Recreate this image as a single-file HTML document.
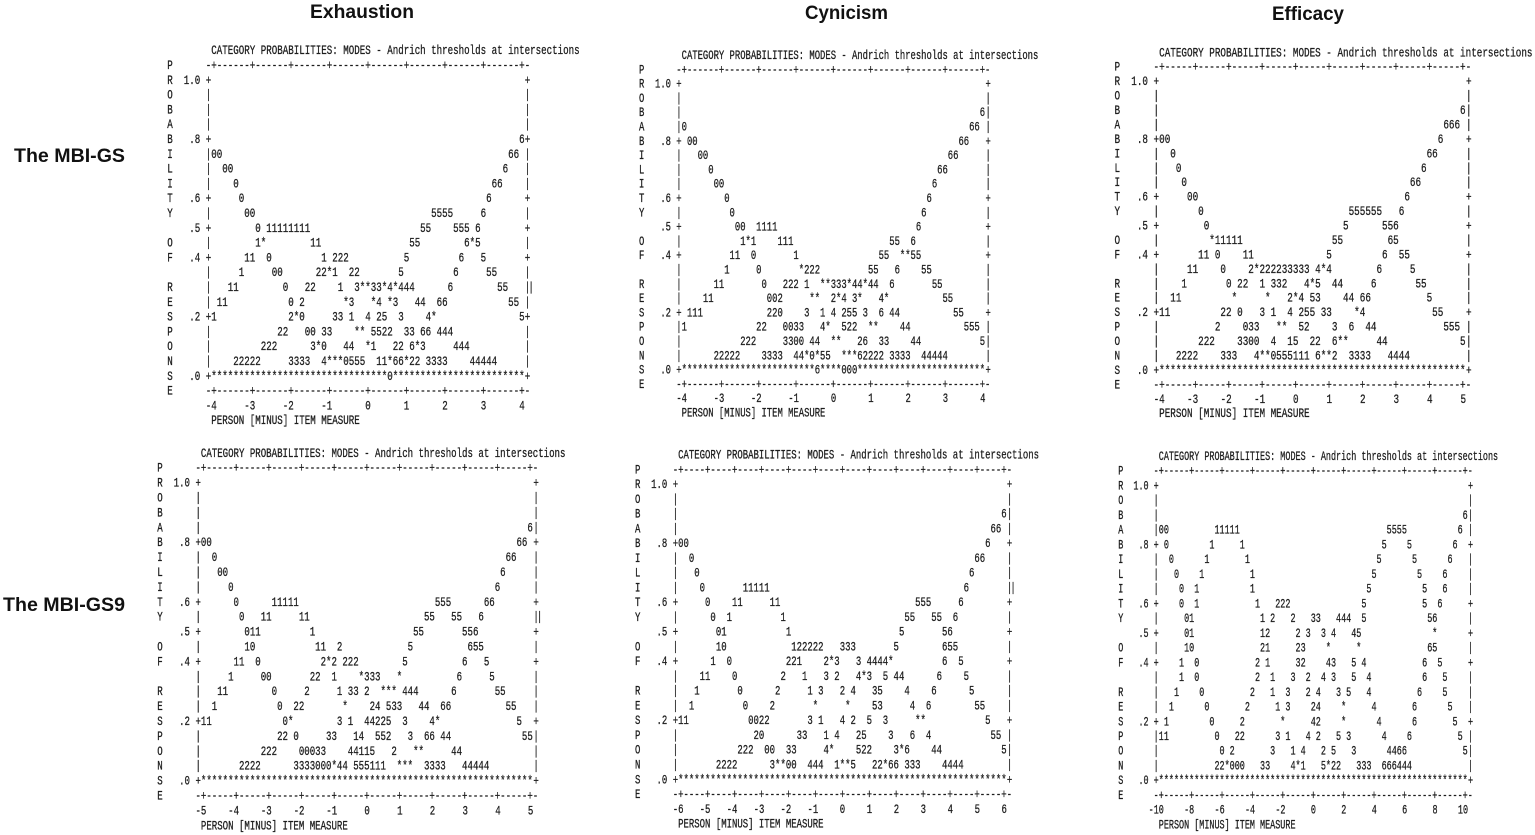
<!DOCTYPE html>
<html lang="en">
<head>
<meta charset="utf-8">
<title>Category probability curves: MBI-GS and MBI-GS9</title>
<style>
html,body{margin:0;padding:0;background:#fff;}
body{width:1535px;height:835px;overflow:hidden;}
svg{display:block;}
.head{font-family:"Liberation Sans",sans-serif;font-weight:bold;font-size:19.5px;fill:#111;}
.mono{font-family:"Liberation Mono",monospace;font-size:12.5px;fill:#1c1c1c;stroke:#1c1c1c;stroke-width:0.28px;white-space:pre;}
</style>
</head>
<body>
<svg id="figure" width="1535" height="835" viewBox="0 0 1535 835" xmlns="http://www.w3.org/2000/svg">
  <text class="head" x="310" y="18" textLength="104" lengthAdjust="spacingAndGlyphs">Exhaustion</text>
  <text class="head" x="805" y="19" textLength="83" lengthAdjust="spacingAndGlyphs">Cynicism</text>
  <text class="head" x="1272" y="20" textLength="72" lengthAdjust="spacingAndGlyphs">Efficacy</text>
  <text class="head" x="14" y="162" textLength="111" lengthAdjust="spacingAndGlyphs">The MBI-GS</text>
  <text class="head" x="3" y="611" textLength="122" lengthAdjust="spacingAndGlyphs">The MBI-GS9</text>
</svg>
<script>
// Shared axis values
const probabilityLabels = ["1.0", ".8", ".6", ".5", ".4", ".2", ".0"];
const probabilityTicks = [1.0, 0.8, 0.6, 0.5, 0.4, 0.2, 0.0];
const yTitleLetters = ["P","R","O","B","A","B","I","L","I","T","Y","","O","F","","R","E","S","P","O","N","S","E"];

// Measure ticks per panel
const exhaustionGsTicks = [-4,-3,-2,-1,0,1,2,3,4];
const cynicismGsTicks = [-4,-3,-2,-1,0,1,2,3,4];
const efficacyGsTicks = [-4,-3,-2,-1,0,1,2,3,4,5];
const exhaustionGs9Ticks = [-5,-4,-3,-2,-1,0,1,2,3,4,5];
const cynicismGs9Ticks = [-6,-5,-4,-3,-2,-1,0,1,2,3,4,5,6];
const efficacyGs9Ticks = [-10,-8,-6,-4,-2,0,2,4,6,8,10];

// Printed plot rows, top (p=1.0) to bottom (p=0.0), as [blank-count, symbols, ...]
const exhaustionGsRows = [
[],[],[],[],
[56,"6"],
[0,"00",52,"66"],
[2,"00",49,"6"],
[4,"0",46,"66"],
[5,"0",44,"6"],
[6,"00",32,"5555",5,"6"],
[8,"0",1,"11111111",20,"55",4,"555",1,"6"],
[8,"1*",8,"11",16,"55",8,"6*5"],
[6,"11",2,"0",9,"1",1,"222",10,"5",9,"6",3,"5"],
[5,"1",5,"00",6,"22*1",2,"22",7,"5",9,"6",5,"55"],
[3,"11",8,"0",3,"22",4,"1",2,"3**33*4*444",6,"6",8,"55"],
[1,"11",11,"0",1,"2",7,"*3",3,"*4",1,"*3",3,"44",2,"66",11,"55"],
[0,"1",13,"2*0",5,"33",1,"1",2,"4",1,"25",2,"3",4,"4*",15,"5"],
[12,"22",3,"00",1,"33",4,"**",1,"5522",2,"33",1,"66",1,"444"],
[9,"222",6,"3*0",3,"44",2,"*1",3,"22",1,"6*3",5,"444"],
[4,"22222",5,"3333",2,"4***0555",2,"11*66*22",1,"3333",4,"44444"],
[0,"*".repeat(32)+"0"+"*".repeat(24)]
];
const cynicismGsRows = [
[],[],
[56,"6"],
[0,"0",53,"66"],
[1,"00",49,"66"],
[3,"00",45,"66"],
[5,"0",42,"66"],
[6,"00",39,"6"],
[8,"0",37,"6"],
[9,"0",35,"6"],
[10,"00",2,"1111",26,"6"],
[11,"1*1",4,"111",18,"55",2,"6"],
[9,"11",2,"0",7,"1",15,"55",2,"**55"],
[8,"1",5,"0",7,"*222",9,"55",3,"6",4,"55"],
[6,"11",7,"0",3,"222",1,"1",2,"**333*44*44",2,"6",7,"55"],
[4,"11",10,"002",5,"**",2,"2*4",1,"3*",3,"4*",10,"55"],
[1,"111",12,"220",4,"3",2,"1",1,"4",1,"255",1,"3",2,"6",1,"44",10,"55"],
[0,"1",13,"22",3,"0033",3,"4*",2,"522",2,"**",4,"44",10,"555"],
[11,"222",5,"3300",1,"44",2,"**",3,"26",2,"33",4,"44",11,"5"],
[6,"22222",4,"3333",2,"44*0*55",2,"***62222",1,"3333",2,"44444"],
[0,"*".repeat(25)+"6"+"*".repeat(4)+"000"+"*".repeat(24)]
];
const efficacyGsRows = [
[],[],
[54,"6"],
[51,"666"],
[0,"00",48,"6"],
[2,"0",45,"66"],
[3,"0",43,"6"],
[4,"0",40,"66"],
[5,"00",37,"6"],
[7,"0",26,"555555",3,"6"],
[8,"0",24,"5",6,"556"],
[9,"*11111",16,"55",8,"65"],
[7,"11",1,"0",4,"11",13,"5",9,"6",2,"55"],
[5,"11",4,"0",4,"2*222233333",1,"4*4",8,"6",5,"5"],
[4,"1",7,"0",1,"22",2,"1",1,"332",3,"4*5",2,"44",5,"6",7,"55"],
[2,"11",9,"*",5,"*",3,"2*4",1,"53",4,"44",1,"66",10,"5"],
[0,"11",9,"22",1,"0",3,"3",1,"1",2,"4",1,"255",1,"33",4,"*4",12,"55"],
[10,"2",4,"033",3,"**",2,"52",4,"3",2,"6",2,"44",12,"555"],
[7,"222",4,"3300",2,"4",2,"15",2,"22",2,"6**",5,"44",13,"5"],
[3,"2222",4,"333",3,"4**0555111",1,"6**2",2,"3333",3,"4444"],
[0,"*".repeat(55)]
];
const exhaustionGs9Rows = [
[],[],[],
[60,"6"],
[0,"00",56,"66"],
[2,"0",53,"66"],
[3,"00",50,"6"],
[5,"0",48,"6"],
[6,"0",6,"11111",25,"555",6,"66"],
[7,"0",3,"11",5,"11",21,"55",3,"55",3,"6"],
[8,"011",9,"1",18,"55",7,"556"],
[8,"10",11,"11",2,"2",12,"5",10,"655"],
[6,"11",2,"0",11,"2*2",1,"222",8,"5",10,"6",3,"5"],
[5,"1",5,"00",7,"22",2,"1",4,"*333",3,"*",10,"6",5,"5"],
[3,"11",8,"0",5,"2",5,"1",1,"33",1,"2",2,"***",1,"444",6,"6",7,"55"],
[2,"1",11,"0",2,"22",7,"*",4,"24",1,"533",3,"44",2,"66",10,"55"],
[0,"11",13,"0*",8,"3",1,"1",2,"44225",2,"3",4,"4*",14,"5"],
[14,"22",1,"0",5,"33",3,"14",2,"552",3,"3",2,"66",1,"44",13,"55"],
[11,"222",4,"00033",4,"44115",3,"2",3,"**",5,"44"],
[7,"2222",6,"3333000*44",1,"555111",2,"***",2,"3333",3,"44444"],
[0,"*".repeat(61)]
];
const cynicismGs9Rows = [
[],[],
[60,"6"],
[58,"66"],
[0,"00",55,"6"],
[2,"0",52,"66"],
[3,"0",50,"6"],
[4,"0",7,"11111",36,"6"],
[5,"0",4,"11",5,"11",25,"555",5,"6"],
[6,"0",2,"1",9,"1",22,"55",3,"55",2,"6"],
[7,"01",11,"1",20,"5",7,"56"],
[7,"10",12,"122222",3,"333",7,"5",8,"655"],
[6,"1",2,"0",10,"221",4,"2*3",3,"3",1,"4444*",9,"6",2,"5"],
[4,"11",4,"0",8,"2",3,"1",3,"3",1,"2",3,"4*3",2,"5",1,"44",6,"6",4,"5"],
[3,"1",7,"0",6,"2",5,"1",1,"3",3,"2",1,"4",3,"35",4,"4",4,"6",6,"5"],
[2,"1",9,"0",4,"2",7,"*",5,"*",4,"53",5,"4",2,"6",8,"55"],
[0,"11",11,"0022",7,"3",1,"1",3,"4",1,"2",2,"5",2,"3",5,"**",11,"5"],
[14,"20",6,"33",3,"1",1,"4",3,"25",4,"3",3,"6",2,"4",11,"55"],
[11,"222",2,"00",2,"33",5,"4*",4,"522",4,"3*6",4,"44",11,"5"],
[7,"2222",6,"3**00",2,"444",2,"1**5",3,"22*66",1,"333",4,"4444"],
[0,"*".repeat(61)]
];
const efficacyGs9Rows = [
[],[],
[60,"6"],
[0,"00",9,"11111",29,"5555",10,"6"],
[1,"0",8,"1",5,"1",27,"5",4,"5",8,"6"],
[2,"0",6,"1",7,"1",25,"5",6,"5",6,"6"],
[3,"0",4,"1",9,"1",23,"5",8,"5",4,"6"],
[4,"0",2,"1",10,"1",22,"5",10,"5",3,"6"],
[4,"0",2,"1",11,"1",3,"222",14,"5",11,"5",2,"6"],
[5,"01",13,"1",1,"2",3,"2",3,"33",3,"444",2,"5",12,"56"],
[5,"01",13,"12",5,"2",1,"3",2,"3",1,"4",3,"45",14,"*"],
[5,"10",13,"21",5,"23",4,"*",5,"*",13,"65"],
[4,"1",2,"0",11,"2",1,"1",5,"32",4,"43",3,"5",1,"4",11,"6",2,"5"],
[4,"1",2,"0",11,"2",2,"1",3,"3",2,"2",2,"4",1,"3",3,"5",2,"4",10,"6",3,"5"],
[3,"1",4,"0",9,"2",3,"1",2,"3",3,"2",1,"4",3,"3",1,"5",3,"4",9,"6",4,"5"],
[2,"1",6,"0",7,"2",5,"1",1,"3",4,"24",4,"*",5,"4",7,"6",6,"5"],
[1,"1",8,"0",5,"2",7,"*",5,"42",4,"*",6,"4",6,"6",7,"5"],
[0,"11",9,"0",3,"22",6,"3",1,"1",3,"4",1,"2",3,"5",1,"3",6,"4",4,"6",9,"5"],
[12,"0",1,"2",7,"3",3,"1",1,"4",3,"2",1,"5",3,"3",6,"4466",11,"5"],
[11,"22*000",3,"33",4,"4*1",3,"5*22",3,"333",2,"666444"],
[0,"*".repeat(61)]
];

const TITLE_TEXT = "CATEGORY PROBABILITIES: MODES - Andrich thresholds at intersections";
const X_TITLE_TEXT = "PERSON [MINUS] ITEM MEASURE";
const CHAR_W = 7.5;
const FIRST_TICK_COL = 8;
const SVG_NS = "http://www.w3.org/2000/svg";

const panels = [
  {name:"exhaustion-mbi-gs", ticks:exhaustionGsTicks, rows:exhaustionGsRows, left:167.3, top:65, pitch:14.8, cw:5.5, tickGap:7, doubleBarRow:14},
  {name:"cynicism-mbi-gs", ticks:cynicismGsTicks, rows:cynicismGsRows, left:639, top:69.3, pitch:14.3, cw:5.33, tickGap:7, doubleBarRow:-1},
  {name:"efficacy-mbi-gs", ticks:efficacyGsTicks, rows:efficacyGsRows, left:1114.5, top:66.7, pitch:14.44, cw:5.58, tickGap:6, doubleBarRow:-1},
  {name:"exhaustion-mbi-gs9", ticks:exhaustionGs9Ticks, rows:exhaustionGs9Rows, left:157.3, top:467.7, pitch:14.9, cw:5.45, tickGap:6, doubleBarRow:9},
  {name:"cynicism-mbi-gs9", ticks:cynicismGs9Ticks, rows:cynicismGs9Rows, left:635, top:469.3, pitch:14.76, cw:5.39, tickGap:5, doubleBarRow:7},
  {name:"efficacy-mbi-gs9", ticks:efficacyGs9Ticks, rows:efficacyGs9Rows, left:1118.2, top:470.7, pitch:14.74, cw:5.07, tickGap:6, doubleBarRow:-1}
];

function makeText(parent, str, x, y, anchor) {
  const t = document.createElementNS(SVG_NS, "text");
  t.setAttribute("class", "mono");
  t.setAttribute("x", x);
  t.setAttribute("y", y);
  t.setAttribute("xml:space", "preserve");
  if (anchor) t.setAttribute("text-anchor", anchor);
  t.textContent = str;
  parent.appendChild(t);
  return t;
}

function decodeRow(row) {
  let s = "";
  for (let i = 0; i < row.length; i += 2) s += " ".repeat(row[i]) + row[i + 1];
  return s;
}

function drawPanel(panel) {
  const svg = document.getElementById("figure");
  const g = document.createElementNS(SVG_NS, "g");
  
  
  g.setAttribute("transform", "translate(" + panel.left + ",0) scale(" + (panel.cw / CHAR_W) + ",1)");
  svg.appendChild(g);

  const n = panel.ticks.length;
  const lastTickCol = FIRST_TICK_COL + (n - 1) * panel.tickGap;
  const rightCol = lastTickCol + 1;
  const lo = panel.ticks[0];
  const hi = panel.ticks[n - 1];
  const colX = function (col) { return col * CHAR_W; };
  const lineY = function (line) { return panel.top + line * panel.pitch + 4; };
  const xScale = function (m) { return colX(FIRST_TICK_COL + ((m - lo) / (hi - lo)) * (n - 1) * panel.tickGap); };
  const yScale = function (p) { return lineY(1 + (1 - p) / 0.05); };

  const title = makeText(g, TITLE_TEXT, colX(8), lineY(-1));
  
  

  yTitleLetters.forEach(function (letter, i) {
    if (!letter) return;
    const t = makeText(g, letter, colX(0), lineY(i));
    
    
  });

  const rule = "-+" + ("-".repeat(panel.tickGap - 1) + "+").repeat(n - 1) + "-";
  [0, 22].forEach(function (line) {
    const t = makeText(g, rule, colX(7), lineY(line));
    
    
  });

  probabilityTicks.forEach(function (p, i) {
    const t = makeText(g, probabilityLabels[i], colX(6), yScale(p), "end");
    
    
  });

  panel.ticks.forEach(function (m) {
    const t = makeText(g, String(m), xScale(m) + CHAR_W, lineY(23), "end");
    
    
  });

  const xTitle = makeText(g, X_TITLE_TEXT, colX(8), lineY(24));
  
  

  panel.rows.forEach(function (row, i) {
    const p = 1 - i * 0.05;
    const y = yScale(p);
    const isTick = probabilityTicks.some(function (v) { return Math.abs(v - p) < 1e-6; });
    const border = isTick ? "+" : "|";
    const leftBar = makeText(g, border, colX(7), y);
    
    
    const rightBar = makeText(g, border, colX(rightCol), y);
    
    
    if (i === panel.doubleBarRow) {
      const extra = makeText(g, "|", colX(rightCol + 0.65), y);
      
      
    }
    if (row.length) {
      const marks = makeText(g, decodeRow(row), colX(8), y);
      
      
    }
  });
}

panels.forEach(drawPanel);
</script>
</body>
</html>
